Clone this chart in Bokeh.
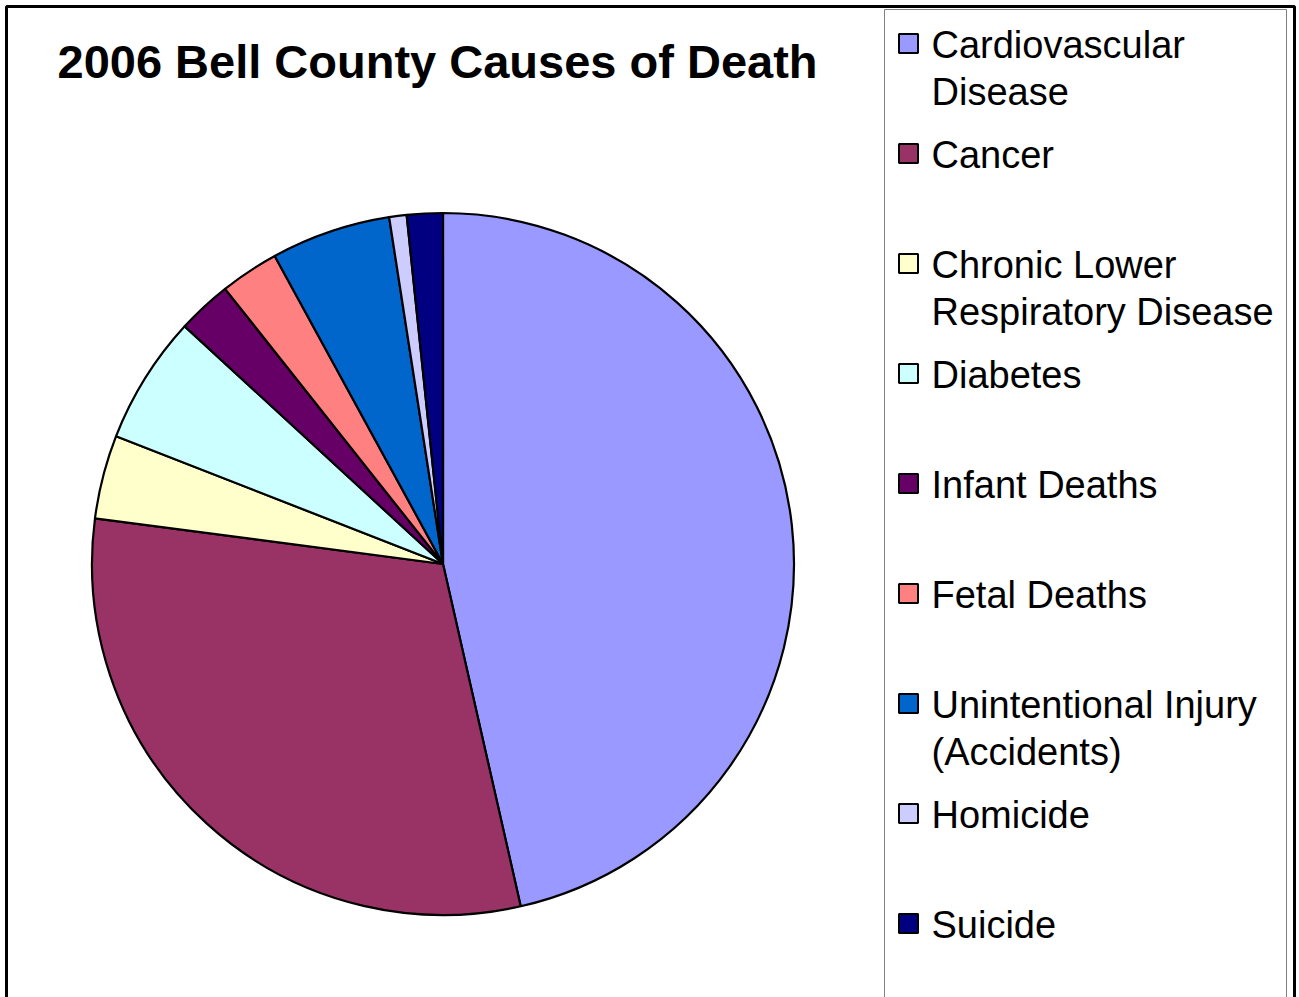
import math
from bokeh.plotting import figure
from bokeh.models import Range1d, ColumnDataSource
from bokeh.core.properties import value
from bokeh.embed import file_html
from bokeh.resources import INLINE

# Causes of death and their share of all deaths (percent)
causes = [
    "Cardiovascular\nDisease",
    "Cancer",
    "Chronic Lower\nRespiratory Disease",
    "Diabetes",
    "Infant Deaths",
    "Fetal Deaths",
    "Unintentional Injury\n(Accidents)",
    "Homicide",
    "Suicide",
]
shares = [46.4, 30.6, 3.85, 5.9, 2.5, 2.7, 5.5, 0.8, 1.65]
colors = ["#9999FF", "#993366", "#FFFFCC", "#CCFFFF", "#660066",
          "#FF8080", "#0066CC", "#CCCCFF", "#000080"]
title_text = "2006 Bell County Causes of Death"

W, H = 1299, 997
FONT = "Liberation Sans"


def fy(y):
    # page coordinates measured from the top edge
    return H - y


p = figure(width=W, height=H, x_range=Range1d(0, W), y_range=Range1d(0, H),
           output_backend="svg", toolbar_location=None, min_border=0)
p.axis.visible = False
p.grid.visible = False
p.outline_line_color = None
p.background_fill_color = "white"

# outer chart frame
p.quad(left=[6], right=[1294], top=[fy(6)], bottom=[fy(1020)],
       fill_color=None, line_color="black", line_width=3)

# legend frame
p.quad(left=[884], right=[1286], top=[fy(9)], bottom=[fy(1020)],
       fill_color=None, line_color="#808080", line_width=1)

# pie wedges, starting at 12 o'clock and running clockwise
total = sum(shares)
starts, ends = [], []
acc = 0.0
for s in shares:
    starts.append(math.pi / 2 - 2 * math.pi * acc / total)
    acc += s
    ends.append(math.pi / 2 - 2 * math.pi * acc / total)

src = ColumnDataSource(dict(start=starts, end=ends, color=colors))
p.wedge(x=442.5, y=fy(563.5), radius=351, start_angle="start", end_angle="end",
        direction="clock", fill_color="color", line_color="black", line_width=2.2,
        source=src)

# title
p.text(x=[57], y=[fy(61)], text=[title_text], text_font=value(FONT),
       text_font_style="bold", text_font_size="47px", text_baseline="middle",
       text_align="left", text_color="black")

# legend entries
row0, row_step, line_step = 44, 110, 47
sq_x, sq_y = [], []
tx, ty, tt = [], [], []
for i, lab in enumerate(causes):
    yc = row0 + i * row_step
    sq_x.append(908)
    sq_y.append(fy(yc - 1))
    for j, line in enumerate(lab.split("\n")):
        tx.append(931)
        ty.append(fy(yc + j * line_step))
        tt.append(line)

p.rect(x=sq_x, y=sq_y, width=19, height=19, fill_color=colors,
       line_color="black", line_width=2)
p.text(x=tx, y=ty, text=tt, text_font=value(FONT), text_font_size="38px",
       text_baseline="middle", text_align="left", text_color="black")

open("out.html", "w").write(file_html(p, INLINE))
